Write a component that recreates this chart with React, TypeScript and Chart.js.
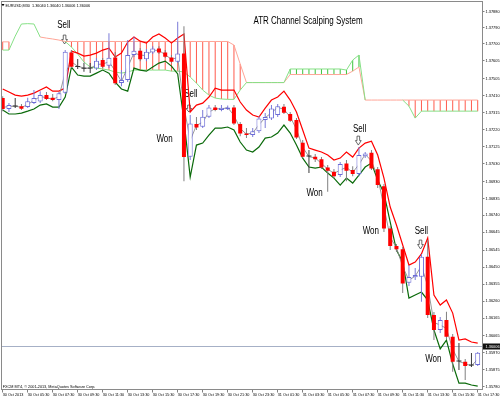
import React, { useEffect, useRef } from 'react';
import { Chart, registerables } from 'chart.js';

Chart.register(...registerables);

const FONT = '"Liberation Sans", Arial, sans-serif';

const timeLabels = [
  '30 Oct 2013', '30 Oct 05:30', '30 Oct 07:30', '30 Oct 09:30', '30 Oct 11:30',
  '30 Oct 13:30', '30 Oct 15:30', '30 Oct 17:30', '30 Oct 19:30', '30 Oct 21:30',
  '30 Oct 23:30', '31 Oct 01:30', '31 Oct 03:30', '31 Oct 05:30', '31 Oct 07:30',
  '31 Oct 09:30', '31 Oct 11:30', '31 Oct 13:30', '31 Oct 15:30', '31 Oct 17:30',
];

const yTickValues = [
  1.3788, 1.3779, 1.377, 1.37605, 1.37505, 1.3741, 1.37315, 1.3722, 1.37125, 1.3703,
  1.3693, 1.36835, 1.3674, 1.36645, 1.36545, 1.3645, 1.36355, 1.3626, 1.36165, 1.36065,
  1.3597, 1.35875, 1.3578,
];

const open = [
  1.37397, 1.37336, 1.37352, 1.37352, 1.37347, 1.37369, 1.37378, 1.37414, 1.37399, 1.37386,
  1.37427, 1.37653, 1.37574, 1.37565, 1.37565, 1.37563, 1.3761, 1.37578, 1.37625, 1.37481,
  1.37498, 1.37638, 1.37662, 1.37614, 1.37653, 1.37675, 1.37653, 1.37625, 1.376, 1.37647,
  1.37068, 1.37252, 1.37236, 1.37292, 1.37345, 1.3733, 1.37334, 1.37345, 1.37252, 1.37199,
  1.3719, 1.37212, 1.37274, 1.37283, 1.37302, 1.37348, 1.37308, 1.37274, 1.37147, 1.37072,
  1.37068, 1.37054, 1.37009, 1.36984, 1.36966, 1.37031, 1.36994, 1.36972, 1.37072, 1.37091,
  1.36998, 1.36904, 1.36667, 1.36568, 1.3655, 1.36363, 1.36393, 1.36396, 1.36508, 1.36182,
  1.36098, 1.36154, 1.3606, 1.35922, 1.3592, 1.35902, 1.35902,
];
const high = [
  1.37408, 1.37369, 1.37397, 1.37364, 1.37399, 1.37442, 1.37436, 1.37431, 1.3742, 1.37431,
  1.37666, 1.37666, 1.37616, 1.37595, 1.37593, 1.37621, 1.37621, 1.3776, 1.37655, 1.37554,
  1.37722, 1.37741, 1.37677, 1.37672, 1.37688, 1.37688, 1.37666, 1.37638, 1.37824, 1.378,
  1.37302, 1.37291, 1.3733, 1.37358, 1.37358, 1.37358, 1.37355, 1.37358, 1.37263, 1.37229,
  1.37229, 1.37296, 1.37313, 1.37358, 1.37364, 1.37364, 1.37319, 1.37285, 1.37162, 1.37106,
  1.37084, 1.37067, 1.37022, 1.37, 1.37039, 1.3705, 1.37016, 1.37123, 1.37095, 1.37106,
  1.37011, 1.36916, 1.3668, 1.3658, 1.36563, 1.36462, 1.36445, 1.36524, 1.36602, 1.36199,
  1.36171, 1.362, 1.36076, 1.36025, 1.35936, 1.35969, 1.35975,
];
const low = [
  1.37324, 1.37319, 1.37341, 1.3733, 1.37341, 1.37364, 1.37369, 1.37386, 1.3738, 1.37336,
  1.3742, 1.37565, 1.3756, 1.37544, 1.37537, 1.37554, 1.37565, 1.37565, 1.3747, 1.37464,
  1.37487, 1.37627, 1.37604, 1.37604, 1.37644, 1.37644, 1.37621, 1.37593, 1.37593, 1.36932,
  1.3705, 1.37218, 1.37229, 1.37285, 1.37324, 1.37324, 1.3733, 1.37246, 1.37184, 1.37173,
  1.37179, 1.37201, 1.37229, 1.37274, 1.37291, 1.37308, 1.37263, 1.37168, 1.37061, 1.36977,
  1.37039, 1.37, 1.36872, 1.36949, 1.36955, 1.36932, 1.3696, 1.3696, 1.37061, 1.36994,
  1.36893, 1.36647, 1.36546, 1.36535, 1.36305, 1.36344, 1.36378, 1.36257, 1.36165, 1.36042,
  1.36081, 1.36048, 1.35864, 1.35874, 1.35818, 1.35891, 1.35896,
];
const close = [
  1.37336, 1.37358, 1.3735, 1.37338, 1.3738, 1.37397, 1.37414, 1.37392, 1.37386, 1.37424,
  1.37656, 1.37572, 1.37571, 1.37562, 1.37563, 1.37606, 1.37572, 1.37623, 1.3748, 1.37498,
  1.37638, 1.37662, 1.37614, 1.37656, 1.37675, 1.37653, 1.37628, 1.376, 1.37647, 1.37067,
  1.37255, 1.37233, 1.37292, 1.37345, 1.3733, 1.37343, 1.37345, 1.37255, 1.37199, 1.3719,
  1.37212, 1.37283, 1.37291, 1.37339, 1.37352, 1.37315, 1.3727, 1.37177, 1.37068, 1.3707,
  1.37054, 1.37009, 1.3699, 1.3696, 1.37028, 1.3699, 1.36972, 1.37078, 1.37087, 1.37003,
  1.3691, 1.36667, 1.36568, 1.3655, 1.36359, 1.36395, 1.36406, 1.36508, 1.36182, 1.36098,
  1.36154, 1.3606, 1.3592, 1.35924, 1.35896, 1.35899, 1.35971,
];

const upperBand = [
  1.37448, 1.37431, 1.37414, 1.37408, 1.37414, 1.37425, 1.37442, 1.37459, 1.37436, 1.37436,
  1.37453, 1.3766, 1.37649, 1.37632, 1.37638, 1.37649, 1.37666, 1.37677, 1.37627, 1.37649,
  1.37711, 1.37739, 1.37716, 1.37705, 1.37739, 1.37756, 1.37733, 1.37705, 1.37733, 1.37756,
  1.37319, 1.37358, 1.37369, 1.37403, 1.37453, 1.37442, 1.37442, 1.37442, 1.37375, 1.3733,
  1.37302, 1.37291, 1.37341, 1.37386, 1.37403, 1.37436, 1.37386, 1.37319, 1.37218, 1.37117,
  1.37106, 1.37095, 1.37078, 1.3705, 1.37061, 1.37095, 1.37067, 1.37117, 1.37145, 1.37156,
  1.37078, 1.36949, 1.36787, 1.36686, 1.36574, 1.36462, 1.36479, 1.36524, 1.36613, 1.36294,
  1.36238, 1.36266, 1.36193, 1.36042, 1.36048, 1.36031, 1.36025,
];
const lowerBand = [
  1.3733, 1.37308, 1.37308, 1.37313, 1.37324, 1.37336, 1.37358, 1.37364, 1.37347, 1.37347,
  1.37403, 1.37571, 1.37526, 1.3752, 1.3752, 1.37537, 1.37554, 1.37537, 1.37487, 1.37448,
  1.37436, 1.37565, 1.37554, 1.37548, 1.37571, 1.37593, 1.37604, 1.37576, 1.37532, 1.37274,
  1.36955, 1.37134, 1.37145, 1.3719, 1.37229, 1.37229, 1.37235, 1.37218, 1.37151, 1.37106,
  1.37095, 1.37123, 1.37173, 1.37179, 1.37201, 1.37246, 1.37201, 1.37134, 1.37061, 1.37011,
  1.37005, 1.37011, 1.36977, 1.36949, 1.3691, 1.36949, 1.36921, 1.36966, 1.37011, 1.37033,
  1.36938, 1.36865, 1.36703, 1.36546, 1.36479, 1.36277, 1.36294, 1.36311, 1.36266, 1.36098,
  1.35992, 1.36042, 1.35908, 1.35801, 1.35801, 1.3579, 1.35784,
];
const signalLine = [
  1.37345, 1.3735, 1.37352, 1.37345, 1.3736, 1.37385, 1.37405, 1.374, 1.3739, 1.37405,
  1.3754, 1.376, 1.37575, 1.37566, 1.37563, 1.37585, 1.37588, 1.376, 1.3755, 1.3749,
  1.3757, 1.3765, 1.37638, 1.37635, 1.37665, 1.37664, 1.3764, 1.37614, 1.37624, 1.3735,
  1.3716, 1.37244, 1.37262, 1.37318, 1.37338, 1.37336, 1.37344, 1.373, 1.37227, 1.37195,
  1.37201, 1.37248, 1.37287, 1.37315, 1.37345, 1.37334, 1.37292, 1.37223, 1.37122, 1.37069,
  1.37062, 1.37031, 1.37, 1.36975, 1.36994, 1.37009, 1.36981, 1.37025, 1.37082, 1.37045,
  1.36956, 1.36788, 1.36617, 1.36559, 1.36454, 1.36377, 1.364, 1.36457, 1.36345, 1.3614,
  1.36126, 1.36107, 1.3599, 1.35922, 1.3591, 1.35897, 1.35935,
];
const cloudRed = [
  1.37712, 1.37712, null, null, null, null, 1.37739, 1.37733, 1.37728, 1.37722,
  1.37714, 1.37714, 1.37714, 1.37714, 1.37714, 1.37714, 1.37714, 1.37714, 1.37714, 1.37714,
  1.37714, 1.37714, 1.37714, 1.37714, 1.37714, 1.37714, 1.37714, 1.37714, 1.37714, 1.37714,
  1.37714, 1.37714, 1.37714, 1.37714, 1.37714, 1.37714, 1.37714, 1.37694, 1.37588, 1.37484,
  1.37484, 1.37484, 1.37484, 1.37484, 1.37484, 1.37484, 1.37529, 1.37529, 1.37529, 1.37529,
  1.37529, 1.37529, 1.37529, 1.37529, 1.37529, 1.37529, 1.37548, 1.37571, 1.37386, 1.37386,
  1.37386, 1.37386, 1.37386, 1.37386, 1.37386, 1.37386, 1.37386, 1.37386, 1.37386, 1.37386,
  1.37386, 1.37386, 1.37386, 1.37386, 1.37386, 1.37386, 1.37386,
];
const cloudGreen = [
  1.37666, 1.37666, 1.37744, 1.37812, 1.37814, 1.37812, 1.37739, null, null, null,
  1.37714, 1.37683, 1.37644, 1.37599, 1.37571, 1.37565, 1.3756, 1.37554, 1.37543, 1.37537,
  1.37543, 1.37554, 1.37554, 1.37554, 1.37554, 1.37554, 1.37554, 1.37548, 1.37548, 1.37543,
  1.37515, 1.37481, 1.37442, 1.37414, 1.37397, 1.37392, 1.3739, 1.3739, 1.37442, 1.37484,
  1.37484, 1.37484, 1.37484, 1.37484, 1.37484, 1.37484, 1.3756, 1.3756, 1.3756, 1.3756,
  1.3756, 1.3756, 1.3756, 1.3756, 1.3756, 1.37554, 1.3761, 1.37638, 1.37386, null,
  null, null, null, null, 1.37386, 1.37352, 1.37285, 1.37324, 1.37324, 1.37324,
  1.37324, 1.37324, 1.37324, 1.37324, 1.37324, 1.37324, 1.37324,
];

const currentPrice = 1.36006;
const headerText = 'EURUSD,M30  1.36040 1.36040 1.36006 1.36006';
const titleText = 'ATR Channel Scalping System';
const copyrightText = 'FXCM MT4, \u00a9 2001-2013, MetaQuotes Software Corp.';

const signalTexts = ['Sell', 'Sell', 'Won', 'Sell', 'Won', 'Won', 'Sell', 'Won'];
const signalBars = [9.8, 30.1, 25.9, 57.1, 49.9, 58.9, 67.0, 68.9];
const signalPrices = [1.37803, 1.3742, 1.37168, 1.37224, 1.36862, 1.3665, 1.36652, 1.35933];
const arrowBars = [9.9, 29.8, 56.9, 66.85];
const arrowTops = [1.3775, 1.37358, 1.37184, 1.36602];
const arrowBottoms = [1.377, 1.37319, 1.37134, 1.36552];

const DOJI = 0.00004;
const BULL = '#6b6bd6';
const BEAR = '#ff0000';

function squashedText(ctx: CanvasRenderingContext2D, text: string, cx: number, cy: number, size: number, sx: number) {
  ctx.save();
  ctx.translate(cx, cy);
  ctx.scale(sx, 1);
  ctx.font = `${size}px ${FONT}`;
  ctx.textAlign = 'center';
  ctx.textBaseline = 'middle';
  ctx.fillStyle = '#000';
  ctx.fillText(text, 0, 0);
  ctx.restore();
}

const overlayPlugin = {
  id: 'mt4Overlay',
  beforeDatasetsDraw(chart: any) {
    const { ctx, chartArea: a, scales } = chart;
    const xs = scales.x;
    const ys = scales.y;
    ctx.save();
    const py = Math.round(ys.getPixelForValue(currentPrice)) + 0.5;
    ctx.strokeStyle = '#a6b0c6';
    ctx.lineWidth = 1;
    ctx.beginPath();
    ctx.moveTo(a.left, py);
    ctx.lineTo(a.right, py);
    ctx.stroke();

    signalTexts.forEach((t, k) => {
      squashedText(ctx, t, xs.getPixelForValue(signalBars[k]), ys.getPixelForValue(signalPrices[k]), 10, 0.8);
    });

    arrowBars.forEach((b, k) => {
      const cx = xs.getPixelForValue(b);
      const y0 = ys.getPixelForValue(arrowTops[k]);
      const y1 = ys.getPixelForValue(arrowBottoms[k]);
      const ysh = y0 + (y1 - y0) * 0.5;
      ctx.beginPath();
      ctx.moveTo(cx - 1.3, y0);
      ctx.lineTo(cx + 1.3, y0);
      ctx.lineTo(cx + 1.3, ysh);
      ctx.lineTo(cx + 2.9, ysh);
      ctx.lineTo(cx, y1);
      ctx.lineTo(cx - 2.9, ysh);
      ctx.lineTo(cx - 1.3, ysh);
      ctx.closePath();
      ctx.fillStyle = '#ffffff';
      ctx.fill();
      ctx.strokeStyle = '#444';
      ctx.lineWidth = 0.8;
      ctx.stroke();
    });
    ctx.restore();
  },
  afterDraw(chart: any) {
    const { ctx, chartArea: a, scales } = chart;
    const ys = scales.y;
    ctx.save();
    ctx.strokeStyle = '#8a8a8a';
    ctx.lineWidth = 1;
    ctx.strokeRect(a.left, a.top, a.right - a.left, a.bottom - a.top);

    ctx.fillStyle = '#000';
    ctx.beginPath();
    ctx.moveTo(1.5, 4);
    ctx.lineTo(4.5, 4);
    ctx.lineTo(3, 6.2);
    ctx.closePath();
    ctx.fill();
    ctx.font = `3.8px ${FONT}`;
    ctx.textAlign = 'left';
    ctx.textBaseline = 'alphabetic';
    ctx.fillText(headerText, 5.5, 7);

    squashedText(ctx, titleText, 308, 20.8, 10, 0.8);

    ctx.font = `3.8px ${FONT}`;
    ctx.textAlign = 'left';
    ctx.textBaseline = 'alphabetic';
    ctx.fillStyle = '#000';
    ctx.fillText(copyrightText, 2.7, 388);

    const py = Math.round(ys.getPixelForValue(currentPrice)) + 0.5;
    ctx.fillStyle = '#111';
    ctx.fillRect(a.right + 0.5, py - 3, 500 - a.right, 6);
    ctx.fillStyle = '#fff';
    ctx.font = `3.9px ${FONT}`;
    ctx.textBaseline = 'middle';
    ctx.fillText(currentPrice.toFixed(5), a.right + 3, py);
    ctx.restore();
  },
};

export default function App() {
  const ref = useRef<HTMLCanvasElement>(null);

  useEffect(() => {
    const idx = close.map((_, i) => i);
    const kind = idx.map((i) => (close[i] - open[i] > DOJI ? 'bull' : open[i] - close[i] > DOJI ? 'bear' : 'doji'));
    const bodyData = (k: string) =>
      idx.filter((i) => kind[i] === k).map((i) => ({ x: i, y: [open[i], close[i]] }));
    const wickData = idx.map((i) => ({ x: i, y: [low[i], high[i]], k: kind[i] }));
    const hatchData = idx
      .filter((i) => cloudRed[i] !== null && cloudGreen[i] !== null && cloudRed[i] !== cloudGreen[i])
      .map((i) => ({
        x: i,
        y: [cloudRed[i] as number, cloudGreen[i] as number],
        c: (cloudRed[i] as number) > (cloudGreen[i] as number) ? '#ff5a4c' : '#3cc43c',
      }));
    const lineData = (arr: (number | null)[]) => arr.map((v, i) => ({ x: i, y: v }));

    const lineBase = {
      type: 'line' as const,
      pointRadius: 0,
      pointHoverRadius: 0,
      tension: 0,
      fill: false,
      spanGaps: false,
    };
    const barBase = {
      type: 'bar' as const,
      grouped: false,
      inflateAmount: 0,
      borderSkipped: false,
    };

    const chart = new Chart(ref.current as HTMLCanvasElement, {
      type: 'bar',
      data: {
        datasets: [
          { ...barBase, label: 'bull', order: 0, data: bodyData('bull') as any, barThickness: 5, minBarLength: 1,
            backgroundColor: '#ffffff', borderColor: BULL, borderWidth: 1 },
          { ...barBase, label: 'bear', order: 0, data: bodyData('bear') as any, barThickness: 4, minBarLength: 1,
            backgroundColor: BEAR, borderColor: BEAR, borderWidth: 0 },
          { ...barBase, label: 'doji', order: 0, data: bodyData('doji') as any, barThickness: 5, minBarLength: 1,
            backgroundColor: '#333333', borderWidth: 0 },
          { ...barBase, label: 'wick', order: 1, data: wickData as any, barThickness: 1,
            backgroundColor: (c: any) => (c.raw && c.raw.k === 'bull' ? '#7a7ad8' : c.raw && c.raw.k === 'doji' ? '#3a3a3a' : '#808080'),
            borderWidth: 0 },
          { ...lineBase, label: 'signal', order: 2, data: lineData(signalLine) as any, borderColor: '#8c8c8c', borderWidth: 0.9 },
          { ...lineBase, label: 'upper', order: 3, data: lineData(upperBand) as any, borderColor: '#ff0000', borderWidth: 1.2 },
          { ...lineBase, label: 'lower', order: 3, data: lineData(lowerBand) as any, borderColor: '#0a6a0a', borderWidth: 1.2 },
          { ...lineBase, label: 'cloudGreen', order: 4, data: lineData(cloudGreen) as any, borderColor: '#86e086', borderWidth: 1 },
          { ...lineBase, label: 'cloudRed', order: 5, data: lineData(cloudRed) as any, borderColor: '#ffa597', borderWidth: 1 },
          { ...barBase, label: 'hatch', order: 6, data: hatchData as any, barThickness: 1,
            backgroundColor: (c: any) => (c.raw ? c.raw.c : '#ff5a4c'), borderWidth: 0 },
        ] as any,
      },
      options: {
        responsive: false,
        animation: false,
        devicePixelRatio: 1,
        events: [],
        layout: { padding: { left: 1.5, top: 1.5, right: 0, bottom: 0 }, autoPadding: false },
        plugins: { legend: { display: false }, tooltip: { enabled: false }, title: { display: false } },
        scales: {
          x: {
            type: 'linear',
            offset: false,
            min: -0.192,
            max: 76.768,
            bounds: 'data',
            afterBuildTicks: (s: any) => {
              s.ticks = timeLabels.map((_, k) => ({ value: k * 4 }));
            },
            afterFit: (s: any) => {
              s.height = 10.5;
              s.paddingLeft = 0;
              s.paddingRight = 0;
            },
            ticks: {
              autoSkip: false,
              maxRotation: 0,
              minRotation: 0,
              align: 'start',
              padding: 0.5,
              color: '#000',
              font: { size: 3.8, family: FONT },
              callback: (_v: any, i: number) => timeLabels[i],
            },
            grid: { offset: false, drawOnChartArea: false, drawTicks: true, tickLength: 3, color: '#808080' },
            border: { display: false },
          },
          y: {
            type: 'linear',
            position: 'right',
            min: 1.35765,
            max: 1.37938,
            bounds: 'data',
            afterBuildTicks: (s: any) => {
              s.ticks = yTickValues.slice().reverse().map((v) => ({ value: v }));
            },
            afterFit: (s: any) => {
              s.width = 17.5;
              s.paddingTop = 0;
              s.paddingBottom = 0;
            },
            ticks: {
              autoSkip: false,
              padding: 1,
              color: '#000',
              font: { size: 3.9, family: FONT },
              callback: (v: any) => Number(v).toFixed(5),
            },
            grid: { drawOnChartArea: false, drawTicks: true, tickLength: 2, color: '#808080' },
            border: { display: false },
          },
        },
      } as any,
      plugins: [overlayPlugin],
    });
    return () => chart.destroy();
  }, []);

  return (
    <div style={{ position: 'absolute', left: 0, top: 0, width: 500, height: 400, background: '#ffffff' }}>
      <canvas ref={ref} width={500} height={400} style={{ display: 'block', width: 500, height: 400 }} />
    </div>
  );
}
